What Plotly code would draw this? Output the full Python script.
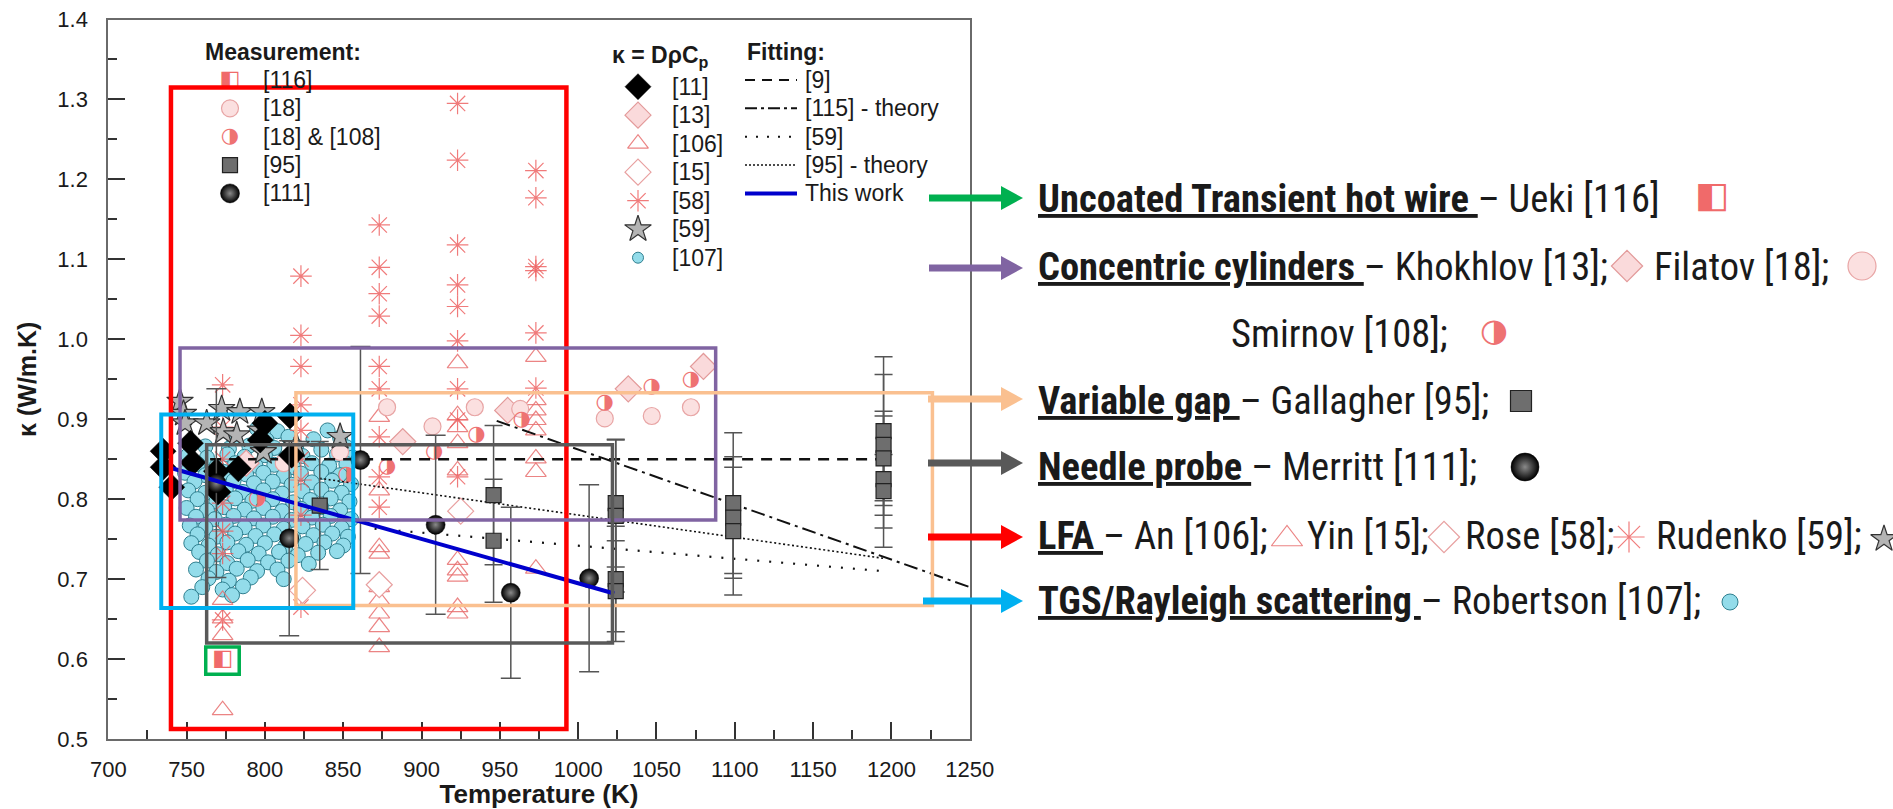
import plotly.graph_objects as go

W, H = 1893, 809
# plot box in page pixels (left, right, top, bottom)
BOX_L, BOX_R, BOX_T, BOX_B = 108.3, 969.7, 19.5, 739.0

# ---------------- data ----------------
# [58] asterisks
T58 = [773, 773, 773, 773, 773, 773, 773,
       823, 823, 823, 823, 823, 823, 823, 823, 823,
       873, 873, 873, 873, 873, 873, 873, 873, 873,
       923, 923, 923, 923, 923, 923, 923, 923, 923,
       973, 973, 973, 973, 973, 973]
k58 = [0.943, 0.890, 0.850, 0.795, 0.760, 0.732, 0.649,
       1.079, 1.005, 0.966, 0.918, 0.886, 0.850, 0.824, 0.780, 0.665,
       1.143, 1.090, 1.057, 1.029, 0.966, 0.938, 0.878, 0.828, 0.790,
       1.295, 1.224, 1.118, 1.068, 1.041, 0.998, 0.938, 0.899, 0.828,
       1.211, 1.177, 1.091, 1.086, 1.008, 0.939]

# [106] open triangles
T106 = [773, 773, 773, 773,
        873, 873, 873, 873, 873, 873, 873, 873, 873,
        923, 923, 923, 923, 923, 923, 923, 923, 923, 923,
        973, 973, 973, 973, 973, 973, 973, 973]
k106 = [0.674, 0.651, 0.630, 0.536,
        0.903, 0.811, 0.740, 0.732, 0.690, 0.674, 0.657, 0.640, 0.615,
        0.970, 0.905, 0.890, 0.870, 0.836, 0.724, 0.711, 0.703, 0.665, 0.657,
        0.978, 0.924, 0.911, 0.899, 0.886, 0.851, 0.834, 0.713]

# [15] open diamonds
T15 = [824, 873, 925]
k15 = [0.686, 0.693, 0.785]

# [13] filled pink diamonds
T13 = [788, 888, 955, 1032, 1080]
k13 = [0.845, 0.872, 0.911, 0.938, 0.966]

# [18] circles
T18 = [812, 848, 878, 907, 934, 963, 1017, 1047, 1072]
k18 = [0.845, 0.859, 0.915, 0.891, 0.915, 0.913, 0.901, 0.904, 0.915]

# [18] & [108] half-filled
T18_108 = [795, 852, 878, 908, 935, 964, 1017, 1047, 1072]
k18_108 = [0.800, 0.830, 0.840, 0.859, 0.880, 0.899, 0.920, 0.940, 0.950]

# [116]
T116 = [773]
k116 = [0.600]

# [11] black diamonds
T11 = [735, 735, 740.5, 752.5, 754, 769, 770, 783, 797, 800, 816, 817]
k11 = [0.860, 0.840, 0.815, 0.870, 0.846, 0.835, 0.809, 0.838, 0.874, 0.895, 0.904, 0.855]

# [59] stars
T59 = [745.8, 748, 749, 762.8, 772.4, 773.4, 782, 784, 798, 797, 799, 820, 848]
k59 = [0.922, 0.907, 0.895, 0.895, 0.913, 0.884, 0.880, 0.909, 0.909, 0.886, 0.859, 0.867, 0.878]

# [107] scattering data, listed row by row (top to bottom)
T107_rows = [
    [795, 808, 840],
    [780, 801, 815, 831, 848],
    [762, 777, 790, 806, 820, 836, 852],
    [751, 763, 776, 787, 800, 813, 824, 846, 856],
    [757, 769, 781, 794, 806, 818, 830, 841, 852],
    [749, 762, 774, 788, 799, 812, 823, 836, 848],
    [755, 768, 780, 793, 805, 817, 830, 843, 855],
    [751, 762, 775, 786, 799, 811, 824, 836, 849],
    [757, 769, 781, 792, 805, 818, 829, 842, 854],
    [750, 763, 774, 787, 799, 811, 823, 836, 848],
    [756, 768, 780, 793, 805, 817, 830, 842, 855],
    [752, 762, 775, 787, 799, 812, 824, 837, 849],
    [757, 769, 781, 794, 806, 818, 831, 843, 853],
    [753, 764, 776, 788, 800, 813, 826, 838, 850],
    [758, 770, 783, 796, 809, 821, 834, 846],
    [763, 776, 789, 802, 815, 828],
    [756, 769, 782, 795, 808],
    [764, 777, 791, 812],
    [760, 773, 786],
    [753, 779],
]
k107_rows = [
    [0.888, 0.885, 0.886],
    [0.877, 0.874, 0.878, 0.875, 0.877],
    [0.866, 0.863, 0.867, 0.864, 0.866, 0.862, 0.865],
    [0.855, 0.852, 0.856, 0.853, 0.855, 0.851, 0.854, 0.856, 0.852],
    [0.844, 0.841, 0.845, 0.842, 0.843, 0.840, 0.845, 0.842, 0.844],
    [0.833, 0.830, 0.834, 0.831, 0.833, 0.829, 0.832, 0.834, 0.830],
    [0.822, 0.819, 0.823, 0.820, 0.822, 0.818, 0.821, 0.823, 0.819],
    [0.811, 0.808, 0.812, 0.809, 0.811, 0.807, 0.810, 0.812, 0.808],
    [0.800, 0.797, 0.801, 0.798, 0.800, 0.796, 0.799, 0.801, 0.797],
    [0.789, 0.786, 0.790, 0.787, 0.789, 0.785, 0.788, 0.790, 0.786],
    [0.778, 0.775, 0.779, 0.776, 0.778, 0.774, 0.777, 0.779, 0.775],
    [0.767, 0.764, 0.768, 0.765, 0.767, 0.763, 0.766, 0.768, 0.764],
    [0.756, 0.753, 0.757, 0.754, 0.756, 0.752, 0.755, 0.757, 0.753],
    [0.745, 0.742, 0.746, 0.743, 0.745, 0.741, 0.744, 0.746, 0.742],
    [0.734, 0.731, 0.735, 0.732, 0.734, 0.730, 0.733, 0.735],
    [0.723, 0.720, 0.724, 0.721, 0.723, 0.719],
    [0.712, 0.709, 0.713, 0.710, 0.712],
    [0.701, 0.698, 0.702, 0.700],
    [0.690, 0.687, 0.691],
    [0.678, 0.680],
]
T107 = [t for row in T107_rows for t in row]
k107 = [k for row in k107_rows for k in row]

# [95] variable gap, with uncertainty
T95 = [835, 946, 946, 1024, 1024, 1024, 1024, 1099, 1099, 1099, 1195, 1195, 1195, 1195, 1195]
k95 = [0.792, 0.805, 0.748, 0.795, 0.779, 0.700, 0.685, 0.795, 0.777, 0.760, 0.885, 0.868, 0.851, 0.825, 0.810]
e95 = [0.080, 0.087, 0.077, 0.080, 0.095, 0.066, 0.063, 0.088, 0.076, 0.080, 0.093, 0.088, 0.053, 0.085, 0.046]

# [111] needle probe, with uncertainty
T111 = [769, 815.5, 861, 909, 957, 1007]
k111 = [0.820, 0.751, 0.849, 0.768, 0.683, 0.701]
e111 = [0.118, 0.122, 0.142, 0.112, 0.107, 0.117]

# fitting lines
fit9_T, fit9_k = [765, 1195], [0.850, 0.850]
fit115_T, fit115_k = [948, 1250], [0.898, 0.690]
fit59_T, fit59_k = [870, 1195], [0.763, 0.710]
fit95_T, fit95_k = [835, 1195], [0.826, 0.726]
work_T, work_k = [740, 1023], [0.839, 0.682]

# highlight boxes per technique: (T0, T1, k0, k1, colour, width)
boxes = [
    (740.0, 992.5, 0.5125, 1.315, "#FF0000", 4.5),
    (745.8, 1087.8, 0.774, 0.989, "#8064A2", 3.5),
    (819.8, 1226.2, 0.667, 0.933, "#FAC090", 3.5),
    (762.8, 1021.9, 0.620, 0.868, "#595959", 3.5),
    (733.8, 856.4, 0.664, 0.906, "#00B0F0", 4.0),
    (762.2, 783.6, 0.581, 0.615, "#00B050", 3.5),
]

x_ticks = [700, 750, 800, 850, 900, 950, 1000, 1050, 1100, 1150, 1200, 1250]
y_ticks = [0.5, 0.6, 0.7, 0.8, 0.9, 1.0, 1.1, 1.2, 1.3, 1.4]

# ---------------- styles ----------------
ARIAL = "Liberation Sans, Arial, sans-serif"
SYM = "DejaVu Sans"
PINK_LINE = "rgba(232,110,110,0.85)"
AST = "rgba(236,90,90,0.8)"
STY = {
    "58": dict(symbol="asterisk-open", size=18, color=AST, line=dict(color=AST, width=1.2)),
    "106": dict(symbol="triangle-up-open", size=18, color=PINK_LINE, line=dict(width=1.2, color=PINK_LINE)),
    "15": dict(symbol="diamond", size=20, color="white", line=dict(width=1.2, color="#E8A0A0")),
    "13": dict(symbol="diamond", size=20, color="#FADADB", line=dict(width=1.2, color="#E39A9A")),
    "18": dict(symbol="circle", size=17, color="#FBE0E0", line=dict(width=1.2, color="#E8A5A5")),
    "11": dict(symbol="diamond", size=20, color="black", line=dict(width=0.5, color="black")),
    "59": dict(symbol="star", size=20, color="#B4B4B4", line=dict(width=1.2, color="#333333")),
    "107": dict(symbol="circle", size=15, color="#93DCEA", line=dict(width=1, color="#2F7F8F")),
    "95": dict(symbol="square", size=15, color="#6E6E6E", line=dict(width=1.2, color="#222222")),
    "111": dict(symbol="circle", size=19, color="black", line=dict(width=0.5, color="black"),
                gradient=dict(type="radial", color="#8a8a8a")),
}
HALF_HEX = dict(text="◑", color="#EE7272", size=21)
HALF_SQ = dict(text="◧", color="#F06A6A", size=22)

fig = go.Figure()


def pts(T, k, sty, **kw):
    fig.add_trace(go.Scatter(x=T, y=k, mode="markers", marker=sty, showlegend=False,
                             hoverinfo="skip", **kw))


def glyph(T, k, g, xaxis="x", yaxis="y", size=None):
    fig.add_trace(go.Scatter(x=T, y=k, mode="text", text=[g["text"]] * len(T),
                             textposition="middle center",
                             textfont=dict(family=SYM, size=size or g["size"], color=g["color"]),
                             showlegend=False, hoverinfo="skip", xaxis=xaxis, yaxis=yaxis))


def err(e, w=9):
    return dict(type="data", array=e, visible=True, color="#555555", thickness=1.5, width=w)


# ---- data marks ----
pts(T107, k107, STY["107"])
pts(T106, k106, STY["106"])
pts(T58, k58, STY["58"])
pts(T15, k15, STY["15"])
pts(T13, k13, STY["13"])
pts(T18, k18, STY["18"])
glyph(T18_108, k18_108, HALF_HEX)
glyph(T116, k116, HALF_SQ)

line_sty = dict(mode="lines", showlegend=False, hoverinfo="skip")
fig.add_trace(go.Scatter(x=fit9_T, y=fit9_k, line=dict(color="#111", width=2.5, dash="11px,8px"), **line_sty))
fig.add_trace(go.Scatter(x=fit115_T, y=fit115_k, line=dict(color="#111", width=2, dash="14px,5px,3px,5px"), **line_sty))
fig.add_trace(go.Scatter(x=fit59_T, y=fit59_k, line=dict(color="#111", width=2.2, dash="2px,10px"), **line_sty))
fig.add_trace(go.Scatter(x=fit95_T, y=fit95_k, line=dict(color="#111", width=1.6, dash="2px,2.5px"), **line_sty))

pts(T59, k59, STY["59"])
pts(T11, k11, STY["11"])
pts(T95, k95, STY["95"], error_y=err(e95))
pts(T111, k111, STY["111"], error_y=err(e111, 10))
fig.add_trace(go.Scatter(x=work_T, y=work_k, line=dict(color="#0000CC", width=4), **line_sty))

for t0, t1, k0, k1, c, w in boxes:
    fig.add_shape(type="rect", x0=t0, x1=t1, y0=k0, y1=k1, xref="x", yref="y",
                  line=dict(color=c, width=w), layer="above")

# ---------------- in-plot key (page-pixel overlay axes) ----------------
OV = dict(xaxis="x2", yaxis="y2")


def key_marker(x, y, sty):
    fig.add_trace(go.Scatter(x=[x], y=[y], mode="markers", marker=sty, showlegend=False,
                             hoverinfo="skip", **OV))


def key_text(x, y, s, size=23, bold=False, family=ARIAL):
    fig.add_annotation(x=x, y=y, xref="x2", yref="y2", text=f"<b>{s}</b>" if bold else s,
                       showarrow=False, xanchor="left", yanchor="middle",
                       font=dict(family=family, size=size, color="#1a1a1a"))


meas_labels = ["[116]", "[18]", "[18] &amp; [108]", "[95]", "[111]"]
kappa_labels = ["[11]", "[13]", "[106]", "[15]", "[58]", "[59]", "[107]"]
fit_labels = ["[9]", "[115] - theory", "[59]", "[95] - theory", "This work"]

key_text(203, 52, "Measurement:", size=23, bold=True)
m_rows = [80 + 28.35 * i for i in range(5)]
glyph([230], [m_rows[0]], HALF_SQ, **OV)
key_marker(230, m_rows[1], STY["18"])
glyph([230], [m_rows[2]], HALF_HEX, **OV)
key_marker(230, m_rows[3], STY["95"])
key_marker(230, m_rows[4], STY["111"])
for y, s in zip(m_rows, meas_labels):
    key_text(261, y, s)

key_text(610, 56, "κ = DρC<sub>p</sub>", size=23, bold=True)
k_rows = [86.7 + 28.5 * i for i in range(7)]
for y, key in zip(k_rows, ["11", "13", "106", "15", "58", "59"]):
    key_marker(638, y, STY[key])
key_marker(638, k_rows[6], dict(STY["107"], size=11))
for y, s in zip(k_rows, kappa_labels):
    key_text(670, y, s)

key_text(745, 52, "Fitting:", size=23, bold=True)
f_rows = [80 + 28.35 * i for i in range(5)]
f_lines = [dict(color="#111", width=2.2, dash="10px,7px"),
           dict(color="#111", width=2, dash="12px,4px,3px,4px"),
           dict(color="#111", width=2, dash="2px,9px"),
           dict(color="#111", width=1.5, dash="2px,2px"),
           dict(color="#0000CC", width=4)]
for y, ln in zip(f_rows, f_lines):
    fig.add_trace(go.Scatter(x=[745, 797], y=[y, y], mode="lines", line=ln, showlegend=False,
                             hoverinfo="skip", **OV))
for y, s in zip(f_rows, fit_labels):
    key_text(803, y, s)

# ---------------- technique call-outs on the right ----------------
NARROW = "Liberation Sans Narrow, Roboto Condensed, Lato, sans-serif"
TX = 1036
arrows = [(929, 198, "#00B050"), (929, 268, "#8064A2"), (928, 399, "#FAC090"),
          (928, 463, "#595959"), (928, 537, "#FF0000"), (923, 601, "#00B0F0")]
TIP, HEAD_L, HEAD_W = 1023, 22, 12
for x0, y, c in arrows:
    fig.add_shape(type="line", x0=x0, x1=TIP - HEAD_L + 2, y0=y, y1=y, xref="x2", yref="y2",
                  line=dict(color=c, width=7), layer="above")
    fig.add_shape(type="path", xref="x2", yref="y2", layer="above",
                  path=f"M {TIP - HEAD_L},{y - HEAD_W} L {TIP},{y} L {TIP - HEAD_L},{y + HEAD_W} Z",
                  fillcolor=c, line=dict(color=c, width=0))

FS = 38.5


def call(x, y, s):
    key_text(x, y, s, size=FS, family=NARROW)


def ul(s):
    return f"<b><u>{s} </u></b>"


call(TX, 198, ul("Uncoated Transient hot wire") + "– Ueki [116]")
glyph([1712], [198], HALF_SQ, size=36, **OV)

call(TX, 266, ul("Concentric cylinders") + "– Khokhlov [13];")
key_marker(1627, 266, dict(STY["13"], size=24))
call(1652, 266, "Filatov [18];")
key_marker(1862, 266, dict(STY["18"], size=28))

call(1229, 333, "Smirnov [108];")
glyph([1494], [333], HALF_HEX, size=32, **OV)

call(TX, 400, ul("Variable gap") + "– Gallagher [95];")
key_marker(1521, 401, dict(STY["95"], size=21))

call(TX, 466, ul("Needle probe") + "– Merritt [111];")
key_marker(1525, 467, dict(STY["111"], size=28))

call(TX, 535, ul("LFA") + "– An [106];")
key_marker(1287, 539, dict(STY["106"], size=27))
call(1305, 535, "Yin [15];")
key_marker(1444, 537, dict(STY["15"], size=24))
call(1463, 535, "Rose [58];")
key_marker(1629, 537, dict(STY["58"], size=26))
call(1654, 535, "Rudenko [59];")
key_marker(1884, 539, dict(STY["59"], size=20))

call(TX, 600, ul("TGS/Rayleigh scattering") + "– Robertson [107];")
key_marker(1730, 602, dict(STY["107"], size=16))

# ---------------- layout ----------------
axis_common = dict(showline=True, linecolor="#6a6a6a", linewidth=2, mirror=True,
                   showgrid=False, zeroline=False, ticks="inside", tickcolor="#333",
                   tickwidth=1.5, ticklen=17, automargin=False,
                   tickfont=dict(family=ARIAL, size=22, color="#1a1a1a"))
fig.update_layout(
    width=W, height=H,
    margin=dict(l=0, r=0, t=0, b=0, autoexpand=False),
    paper_bgcolor="white", plot_bgcolor="rgba(0,0,0,0)",
    showlegend=False,
    xaxis=dict(domain=[BOX_L / W, BOX_R / W], range=[700, 1250], tickvals=x_ticks,
               minor=dict(dtick=25, ticks="inside", ticklen=9, tickcolor="#333", tickwidth=1.5),
               ticklabelstandoff=10,
               title=dict(text="<b>Temperature (K)</b>", standoff=2,
                          font=dict(family=ARIAL, size=26, color="#1a1a1a")),
               anchor="y", **axis_common),
    yaxis=dict(domain=[1 - BOX_B / H, 1 - BOX_T / H], range=[0.5, 1.4], tickvals=y_ticks,
               tickformat=".1f",
               minor=dict(dtick=0.05, ticks="inside", ticklen=9, tickcolor="#333", tickwidth=1.5),
               ticklabelstandoff=14,
               title=dict(text="<b>κ (W/m.K)</b>", standoff=14,
                          font=dict(family=ARIAL, size=25, color="#1a1a1a")),
               anchor="x", **axis_common),
    xaxis2=dict(domain=[0, 1], range=[0, W], visible=False, fixedrange=True, anchor="y2",
                automargin=False),
    yaxis2=dict(domain=[0, 1], range=[H, 0], visible=False, fixedrange=True, anchor="x2",
                automargin=False),
)

fig.write_html("out.html")
